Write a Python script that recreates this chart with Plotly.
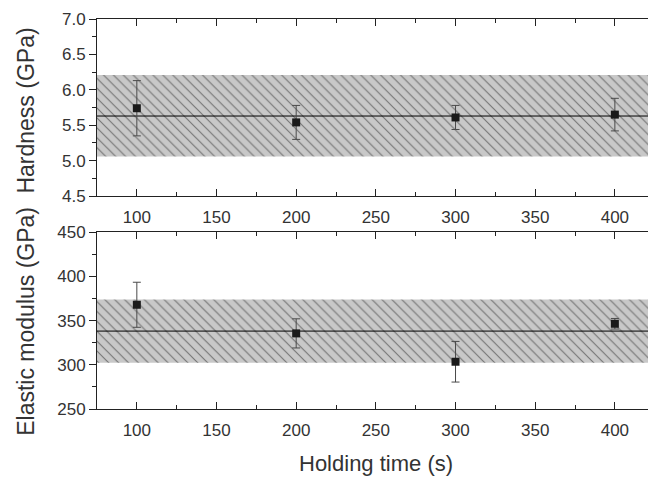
import plotly.graph_objects as go
from plotly.subplots import make_subplots

# ---- data ----
holding_time = [100, 200, 300, 400]
hardness = [5.74, 5.54, 5.61, 5.65]
hardness_err = [0.39, 0.24, 0.17, 0.23]
hardness_mean = 5.63
hardness_band = [5.06, 6.21]

modulus = [368, 335.6, 303.5, 346.5]
modulus_err = [25.5, 16.5, 23.0, 6.0]
modulus_mean = 338.2
modulus_band = [302.3, 374.0]

x_range = [75, 420.8]
hard_range = [4.5, 7.0]
mod_range = [250, 450]
x_ticks = [100, 150, 200, 250, 300, 350, 400]
hard_ticks = [4.5, 5.0, 5.5, 6.0, 6.5, 7.0]
mod_ticks = [250, 300, 350, 400, 450]

FONT = "Liberation Sans, Arial, sans-serif"
AX = "#222222"
TXT = "#333333"

fig = make_subplots(rows=2, cols=1, vertical_spacing=0.0)

def add_panel(row, vals, errs, mean, band):
    xs = [x_range[0], x_range[1], x_range[1], x_range[0], x_range[0]]
    ys = [band[0], band[0], band[1], band[1], band[0]]
    fig.add_trace(go.Scatter(
        x=xs, y=ys, mode="lines", fill="toself",
        line=dict(width=0, color="rgba(0,0,0,0)"),
        fillcolor="#c8c8c8",
        fillpattern=dict(shape="\\", bgcolor="#c8c8c8", fgcolor="#1e1e1e",
                         size=7, solidity=0.16),
        hoverinfo="skip", showlegend=False), row=row, col=1)
    fig.add_trace(go.Scatter(
        x=[x_range[0], x_range[1]], y=[mean, mean], mode="lines",
        line=dict(color="#000000", width=1), showlegend=False), row=row, col=1)
    fig.add_trace(go.Scatter(
        x=holding_time, y=vals, mode="markers",
        marker=dict(symbol="square", size=8, color="#1a1a1a"),
        error_y=dict(type="data", array=errs, visible=True, color="#4a4a4a",
                     thickness=1, width=4),
        showlegend=False), row=row, col=1)

add_panel(1, hardness, hardness_err, hardness_mean, hardness_band)
add_panel(2, modulus, modulus_err, modulus_mean, modulus_band)

xcommon = dict(range=x_range, tickvals=x_ticks, ticks="inside", ticklen=7,
               tickcolor=AX, showline=True, linecolor=AX, linewidth=1,
               mirror="allticks", showgrid=False, zeroline=False,
               showticklabels=True, ticklabelstandoff=6,
               tickfont=dict(family=FONT, size=17, color=TXT),
               minor=dict(ticks="inside", ticklen=4, dtick=25, tick0=75,
                          tickcolor=AX, showgrid=False))
fig.update_xaxes(**xcommon, row=1, col=1)
fig.update_xaxes(**xcommon, row=2, col=1)

ycommon = dict(ticks="outside", ticklen=7, tickcolor=AX, showline=True,
               linecolor=AX, linewidth=1, mirror=False, showgrid=False,
               zeroline=False, tickfont=dict(family=FONT, size=17, color=TXT))
fig.update_yaxes(**ycommon, range=hard_range, tickvals=hard_ticks,
                 ticktext=[f"{v:.1f}" for v in hard_ticks],
                 minor=dict(ticks="outside", ticklen=4, dtick=0.25,
                            tick0=4.5, tickcolor=AX, showgrid=False),
                 row=1, col=1)
fig.update_yaxes(**ycommon, range=mod_range, tickvals=mod_ticks,
                 minor=dict(ticks="outside", ticklen=4, dtick=25,
                            tick0=250, tickcolor=AX, showgrid=False),
                 row=2, col=1)

fig.update_layout(
    width=648, height=477,
    margin=dict(l=97, r=0, t=19, b=68),
    paper_bgcolor="white", plot_bgcolor="white",
    showlegend=False,
    xaxis=dict(domain=[0, 1]),
    yaxis=dict(domain=[0.546, 1.0]),
    yaxis2=dict(domain=[0.0, 0.453]),
    annotations=[
        dict(text="Hardness (GPa)", xref="paper", yref="paper",
             x=-0.129, y=0.765, xanchor="center", yanchor="middle",
             textangle=-90, showarrow=False,
             font=dict(family=FONT, size=23, color=TXT)),
        dict(text="Elastic modulus (GPa)", xref="paper", yref="paper",
             x=-0.129, y=0.226, xanchor="center", yanchor="middle",
             textangle=-90, showarrow=False,
             font=dict(family=FONT, size=23, color=TXT)),
        dict(text="Holding time (s)", xref="paper", yref="paper",
             x=0.506, y=-0.141, xanchor="center", yanchor="middle",
             showarrow=False,
             font=dict(family=FONT, size=22, color=TXT)),
    ],
)

fig.write_html("out.html")
